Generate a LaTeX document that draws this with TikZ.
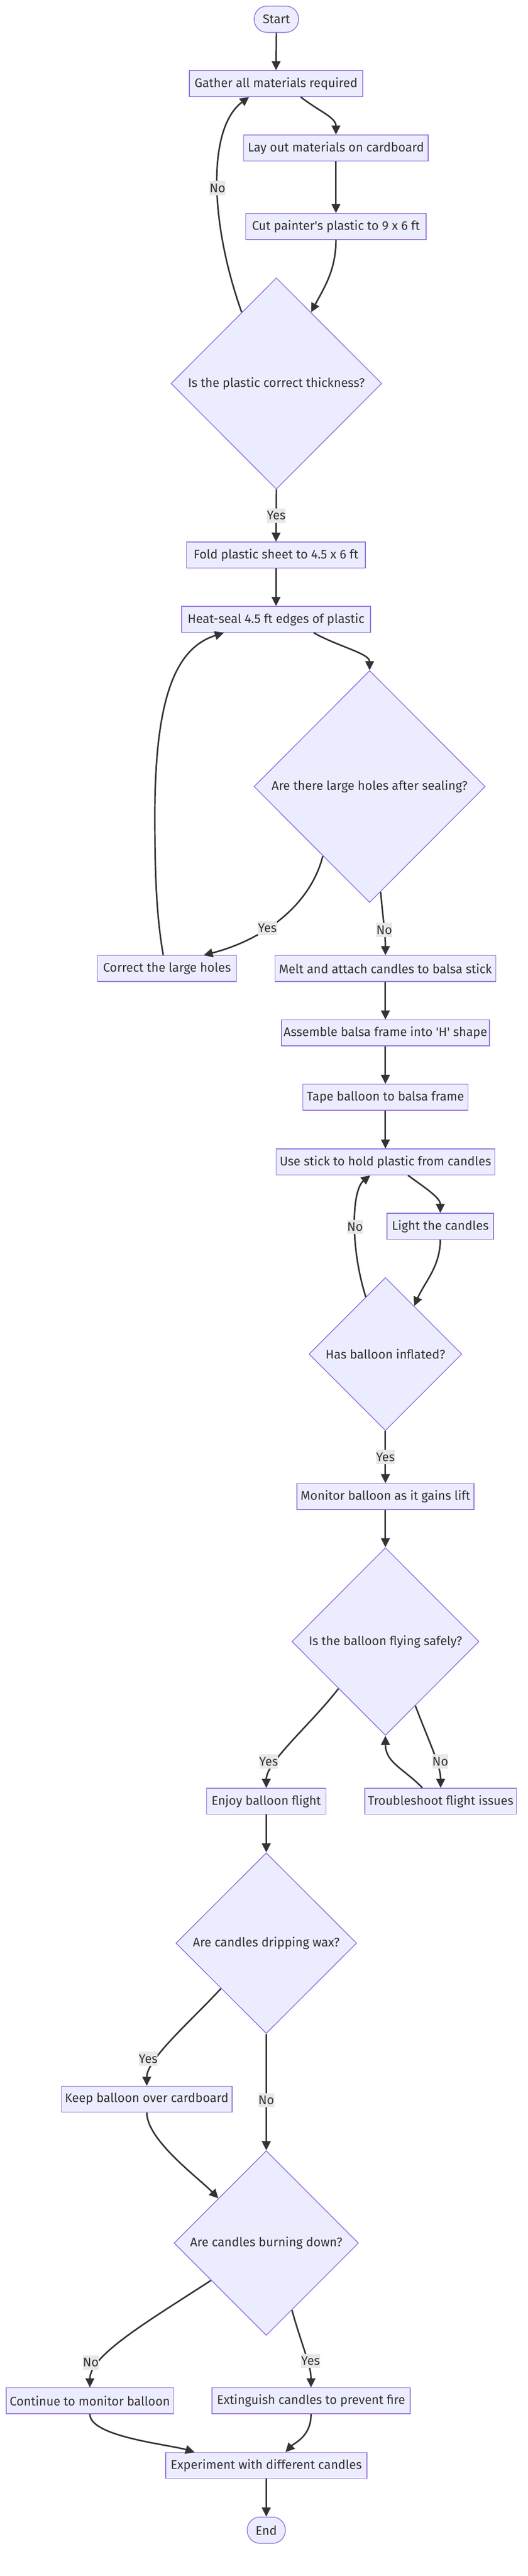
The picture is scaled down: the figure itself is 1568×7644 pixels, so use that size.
\documentclass[tikz,border=0pt]{standalone}
\usepackage{fontspec}
\setmainfont{Fira Sans}
\usetikzlibrary{shapes.geometric,arrows.meta}
\definecolor{boxfill}{HTML}{ECECFF}
\definecolor{boxline}{HTML}{9370DB}
\definecolor{edgeline}{HTML}{333333}
\definecolor{lblfill}{HTML}{E8E8E8}

\begin{document}
\begin{tikzpicture}[x=1pt, y=1pt,
  box/.style={draw=boxline, fill=boxfill, line width=2.3pt, text=edgeline,
    font=\fontsize{37}{44}\selectfont, minimum height=77pt, inner sep=0pt},
  term/.style={box, rounded corners=38pt},
  ask/.style={box, shape=diamond, aspect=1},
  flow/.style={draw=edgeline, line width=4.5pt, -{Triangle[length=27pt,width=26pt]}},
  lbl/.style={fill=lblfill, text=edgeline, font=\fontsize{37}{44}\selectfont,
    inner sep=0pt, minimum height=42pt}]

  \fill[white] (0,0) rectangle (1568,-7644);
  \useasboundingbox (0,0) rectangle (1568,-7644);

  \node[term, minimum width=132pt, minimum height=78pt] (start) at (821,-57) {Start};
  \node[box, minimum width=515pt] (gather) at (820,-248) {Gather all materials required};
  \node[box, minimum width=548pt] (layout) at (998,-439) {Lay out materials on cardboard};
  \node[box, minimum width=536pt] (cut) at (998,-672) {Cut painter\textquotesingle s plastic to 9 x 6 ft};
  \node[ask, minimum width=626pt, minimum height=627pt] (thick) at (821,-1138) {Is the plastic correct thickness?};
  \node[box, minimum width=531pt] (fold) at (820,-1647) {Fold plastic sheet to 4.5 x 6 ft};
  \node[box, minimum width=561pt] (heat) at (820,-1838) {Heat-seal 4.5 ft edges of plastic};
  \node[ask, minimum width=687pt, minimum height=688pt] (holes) at (1098,-2334) {Are there large holes after sealing?};
  \node[box, minimum width=413pt] (fix) at (496,-2874) {Correct the large holes};
  \node[box, minimum width=656pt] (melt) at (1145,-2874) {Melt and attach candles to balsa stick};
  \node[box, minimum width=618pt] (frame) at (1145,-3065) {Assemble balsa frame into \textquotesingle H\textquotesingle\ shape};
  \node[box, minimum width=491pt] (tape) at (1145,-3256) {Tape balloon to balsa frame};
  \node[box, minimum width=650pt] (stick) at (1145,-3448) {Use stick to hold plastic from candles};
  \node[box, minimum width=316pt] (light) at (1308,-3639) {Light the candles};
  \node[ask, minimum width=454pt, minimum height=454pt] (inflated) at (1145,-4018) {Has balloon inflated?};
  \node[box, minimum width=526pt] (monitor) at (1145,-4441) {Monitor balloon as it gains lift};
  \node[ask, minimum width=556pt, minimum height=557pt] (safe) at (1145,-4871) {Is the balloon flying safely?};
  \node[box, minimum width=355pt] (enjoy) at (791,-5345) {Enjoy balloon flight};
  \node[box, minimum width=450pt] (trouble) at (1309,-5345) {Troubleshoot flight issues};
  \node[ask, minimum width=537pt, minimum height=536pt] (wax) at (791,-5766) {Are candles dripping wax?};
  \node[box, minimum width=507pt] (keep) at (436,-6229) {Keep balloon over cardboard};
  \node[ask, minimum width=548pt, minimum height=548pt] (burn) at (791,-6656) {Are candles burning down?};
  \node[box, minimum width=498pt] (watch) at (267,-7124) {Continue to monitor balloon};
  \node[box, minimum width=589pt] (douse) at (924,-7124) {Extinguish candles to prevent fire};
  \node[box, minimum width=598pt] (try) at (791,-7316) {Experiment with different candles};
  \node[term, minimum width=113pt, minimum height=78pt] (stop) at (791,-7508) {End};

  \coordinate (holeturn) at (460,-2420);

  \draw[flow] (start.south) -- (gather.north); %% start->gather
  \draw[flow] ([xshift=73pt]gather.south) .. controls +(57,-44) and +(0,51) .. (layout.north); %% gather->layout
  \draw[flow] (layout.south) -- (cut.north); %% layout->cut
  \draw[flow] (cut.south) .. controls +(0,-89) and +(40,75) .. (thick.64); %% cut->thick
  \draw[flow] (thick.116) .. controls +(-98,276) and +(-122,-90) .. node[lbl, pos=.47] (lno1) {No} ([xshift=-80pt]gather.south); %% thick->gather
  \draw[flow] (thick.south) -- node[lbl] (lyes1) {Yes} (fold.north); %% thick->fold
  \draw[flow] (fold.south) -- (heat.north); %% fold->heat
  \draw[flow] ([xshift=112pt]heat.south) .. controls +(70,-40) and +(0,50) .. (holes.north); %% heat->holes
  \draw[flow] (holes.236) .. controls +(-38,-149) and +(175,45) .. node[lbl, pos=.6] (lyes2) {Yes} ([xshift=109pt]fix.north); %% holes->fix
  \draw[flow] (holes.276) .. controls +(5,-60) and +(0,60) .. node[lbl, pos=.6] (lno2) {No} (melt.north); %% holes->melt
  \draw[flow] ([xshift=-11pt]fix.north) .. controls +(-20,115) and +(0,-180) .. (holeturn)
    .. controls +(0,370) and +(-135,-43) .. ([xshift=-155pt]heat.south); %% fix->heat
  \draw[flow] (melt.south) -- (frame.north); %% melt->frame
  \draw[flow] (frame.south) -- (tape.north); %% frame->tape
  \draw[flow] (tape.south) -- (stick.north); %% tape->stick
  \draw[flow] ([xshift=67pt]stick.south) .. controls +(55,-40) and +(0,45) .. (light.north); %% stick->light
  \draw[flow] (light.south) .. controls +(0,-80) and +(30,70) .. (inflated.59); %% light->inflated
  \draw[flow] (inflated.109) .. controls +(-47,149) and +(-55,-44) .. node[lbl, pos=.47] (lno3) {No} ([xshift=-45pt]stick.south); %% inflated->stick
  \draw[flow] (inflated.south) -- node[lbl] (lyes3) {Yes} (monitor.north); %% inflated->monitor
  \draw[flow] (monitor.south) -- (safe.north); %% monitor->safe
  \draw[flow] (safe.225) .. controls +(-76,-100) and +(0,77) .. node[lbl, pos=.7, xshift=-25pt] (lyes4) {Yes} (enjoy.north); %% safe->enjoy
  \draw[flow] (safe.295) .. controls +(42,-110) and +(0,67) .. node[lbl, pos=.62, xshift=12pt] (lno4) {No} (trouble.north); %% safe->trouble
  \draw[flow] ([xshift=-54pt]trouble.north) .. controls +(-55,57) and +(0,-80) .. (safe.south); %% trouble->safe
  \draw[flow] (enjoy.south) -- (wax.north); %% enjoy->wax
  \draw[flow] (wax.225) .. controls +(-82,-90) and +(0,80) .. node[lbl, pos=.7, xshift=-28pt] (lyes5) {Yes} (keep.north); %% wax->keep
  \draw[flow] (wax.south) -- node[lbl, pos=.57] (lno5) {No} (burn.north); %% wax->burn
  \draw[flow] (keep.south) .. controls +(0,-82) and +(-59,61) .. (burn.137); %% keep->burn
  \draw[flow] (burn.214) .. controls +(-180,-117) and +(0,96) .. node[lbl, pos=.75, xshift=-28pt] (lno6) {No} (watch.north); %% burn->watch
  \draw[flow] (burn.291) .. controls +(29,-105) and +(0,66) .. node[lbl, pos=.6, xshift=10pt] (lyes6) {Yes} (douse.north); %% burn->douse
  \draw[flow] (watch.south) .. controls +(0,-67) and +(-78,23) .. ([xshift=-213pt]try.north); %% watch->try
  \draw[flow] (douse.south) .. controls +(0,-67) and +(27,28) .. ([xshift=57pt]try.north); %% douse->try
  \draw[flow] (try.south) -- (stop.north); %% try->stop
\end{tikzpicture}
\end{document}
